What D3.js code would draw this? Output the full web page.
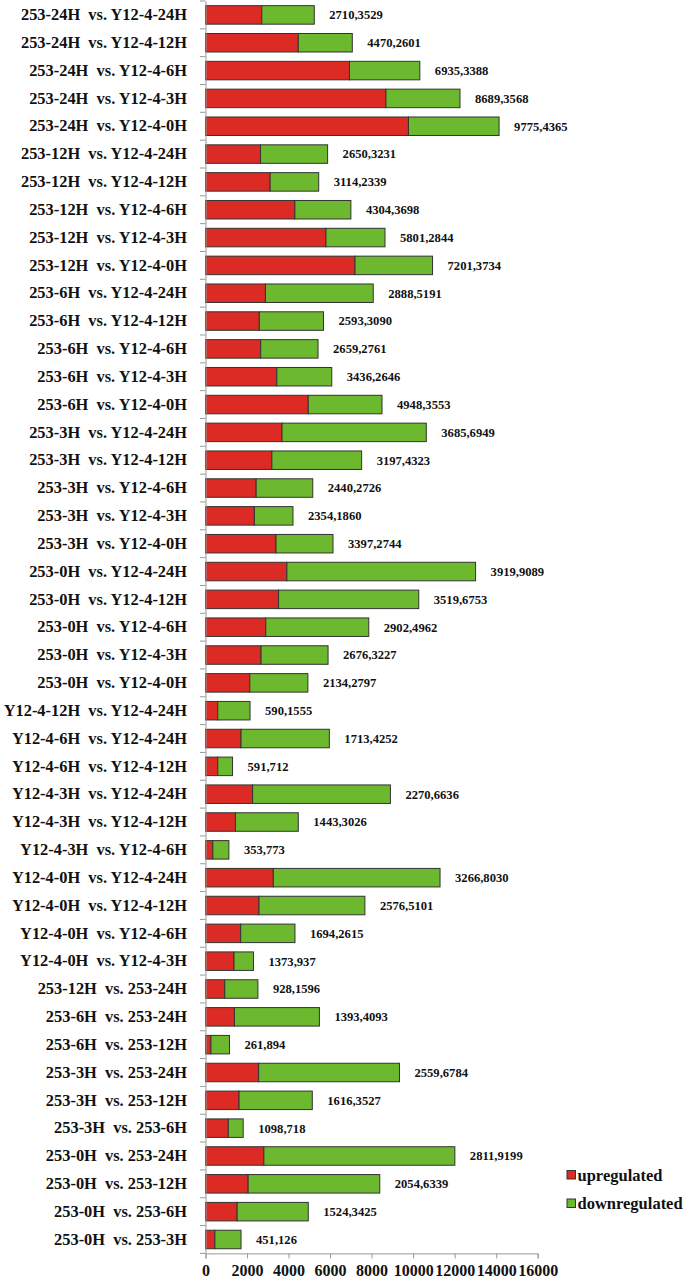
<!DOCTYPE html>
<html><head><meta charset="utf-8">
<script src="https://cdn.jsdelivr.net/npm/d3@7/dist/d3.min.js"></script>
<style>html,body{margin:0;padding:0;background:#fff;}svg{display:block;} .ylab{white-space:pre;}</style>
</head><body>
<svg id="chart" width="685" height="1280"></svg>
<script>
const categories = [
"253-24H  vs. Y12-4-24H","253-24H  vs. Y12-4-12H","253-24H  vs. Y12-4-6H","253-24H  vs. Y12-4-3H","253-24H  vs. Y12-4-0H",
"253-12H  vs. Y12-4-24H","253-12H  vs. Y12-4-12H","253-12H  vs. Y12-4-6H","253-12H  vs. Y12-4-3H","253-12H  vs. Y12-4-0H",
"253-6H  vs. Y12-4-24H","253-6H  vs. Y12-4-12H","253-6H  vs. Y12-4-6H","253-6H  vs. Y12-4-3H","253-6H  vs. Y12-4-0H",
"253-3H  vs. Y12-4-24H","253-3H  vs. Y12-4-12H","253-3H  vs. Y12-4-6H","253-3H  vs. Y12-4-3H","253-3H  vs. Y12-4-0H",
"253-0H  vs. Y12-4-24H","253-0H  vs. Y12-4-12H","253-0H  vs. Y12-4-6H","253-0H  vs. Y12-4-3H","253-0H  vs. Y12-4-0H",
"Y12-4-12H  vs. Y12-4-24H","Y12-4-6H  vs. Y12-4-24H","Y12-4-6H  vs. Y12-4-12H",
"Y12-4-3H  vs. Y12-4-24H","Y12-4-3H  vs. Y12-4-12H","Y12-4-3H  vs. Y12-4-6H",
"Y12-4-0H  vs. Y12-4-24H","Y12-4-0H  vs. Y12-4-12H","Y12-4-0H  vs. Y12-4-6H","Y12-4-0H  vs. Y12-4-3H",
"253-12H  vs. 253-24H","253-6H  vs. 253-24H","253-6H  vs. 253-12H",
"253-3H  vs. 253-24H","253-3H  vs. 253-12H","253-3H  vs. 253-6H",
"253-0H  vs. 253-24H","253-0H  vs. 253-12H","253-0H  vs. 253-6H","253-0H  vs. 253-3H"
];
const upregulated = [2710,4470,6935,8689,9775,2650,3114,4304,5801,7201,2888,2593,2659,3436,4948,3685,3197,2440,2354,3397,3919,3519,2902,2676,2134,590,1713,591,2270,1443,353,3266,2576,1694,1373,928,1393,261,2559,1616,1098,2811,2054,1524,451];
const downregulated = [2529,2601,3388,3568,4365,3231,2339,2698,2844,3734,5191,3090,2761,2646,3553,6949,4323,2726,1860,2744,9089,6753,4962,3227,2797,1555,4252,712,6636,3026,773,8030,5101,2615,937,1596,4093,894,6784,3527,718,9199,6339,3425,1260];
const valueLabels = ["2710,3529","4470,2601","6935,3388","8689,3568","9775,4365","2650,3231","3114,2339","4304,3698","5801,2844","7201,3734","2888,5191","2593,3090","2659,2761","3436,2646","4948,3553","3685,6949","3197,4323","2440,2726","2354,1860","3397,2744","3919,9089","3519,6753","2902,4962","2676,3227","2134,2797","590,1555","1713,4252","591,712","2270,6636","1443,3026","353,773","3266,8030","2576,5101","1694,2615","1373,937","928,1596","1393,4093","261,894","2559,6784","1616,3527","1098,718","2811,9199","2054,6339","1524,3425","451,126"];
const xTicks = [0,2000,4000,6000,8000,10000,12000,14000,16000];
const seriesNames = ["upregulated","downregulated"];
const seriesColors = ["#dc2b25","#6cb92f"];

const svg = d3.select("#chart");
const font = "'Liberation Serif','Times New Roman',serif";
const x0 = 205.5, x1 = 537.7, yTop = 1, yBot = 1253.4;
const x = d3.scaleLinear().domain([0,16000]).range([x0,x1]);
const y = d3.scaleBand().domain(categories).range([yTop,yBot]).padding(0);
const barH = y.bandwidth()*0.665;

const data = categories.map((c,i)=>({c, up:upregulated[i], down:downregulated[i], label:valueLabels[i]}));

// bars
const g = svg.append("g");
const bar = g.selectAll("g.bar").data(data).join("g").attr("class","bar");
bar.append("rect")
  .attr("x", d=>x(0)).attr("y", d=>y(d.c)+(y.bandwidth()-barH)/2)
  .attr("width", d=>x(d.up)-x(0)).attr("height", barH)
  .attr("fill", seriesColors[0]).attr("stroke","#333").attr("stroke-width",1);
bar.append("rect")
  .attr("x", d=>x(d.up)).attr("y", d=>y(d.c)+(y.bandwidth()-barH)/2)
  .attr("width", d=>x(d.up+d.down)-x(d.up)).attr("height", barH)
  .attr("fill", seriesColors[1]).attr("stroke","#333").attr("stroke-width",1);
bar.append("text")
  .attr("x", d=>x(d.up+d.down)+15).attr("y", d=>y(d.c)+y.bandwidth()/2)
  .attr("dy","0.35em").attr("font-family",font).attr("font-weight","bold")
  .attr("font-size","12.6px").attr("fill","#111").text(d=>d.label);

// y axis
const yAxis = d3.axisLeft(y).tickSize(0).tickPadding(18.5);
const ya = svg.append("g").attr("transform",`translate(${x0},0)`).call(yAxis);
ya.select(".domain").attr("stroke","#999");
ya.selectAll("text").attr("class","ylab").attr("xml:space","preserve")
  .attr("font-family",font).attr("font-weight","bold")
  .attr("font-size","16.4px").attr("fill","#111");
// boundary ticks
const bounds = categories.map(c=>y(c)).concat([yBot]);
svg.append("g").selectAll("line").data(bounds).join("line")
  .attr("x1",x0-5.5).attr("x2",x0).attr("y1",d=>d).attr("y2",d=>d)
  .attr("stroke","#999").attr("stroke-width",1);

// x axis
const xAxis = d3.axisBottom(x).tickValues(xTicks).tickSize(5).tickPadding(6).tickFormat(d3.format("d"));
const xa = svg.append("g").attr("transform",`translate(0,${yBot})`).call(xAxis);
xa.select(".domain").attr("stroke","#999");
xa.selectAll(".tick line").attr("stroke","#999");
xa.selectAll("text").attr("font-family",font).attr("font-weight","bold")
  .attr("font-size","16px").attr("fill","#111");

// legend
const leg = svg.append("g");
seriesNames.forEach((n,i)=>{
  const ly = 1175 + i*28.5;
  leg.append("rect").attr("x",567).attr("y",ly-4.5).attr("width",8.5).attr("height",8.5)
    .attr("fill",seriesColors[i]).attr("stroke","#333").attr("stroke-width",1);
  leg.append("text").attr("x",577.5).attr("y",ly).attr("dy","0.35em")
    .attr("font-family",font).attr("font-weight","bold").attr("font-size","16.5px")
    .attr("fill","#111").text(n);
});
</script>
</body></html>
